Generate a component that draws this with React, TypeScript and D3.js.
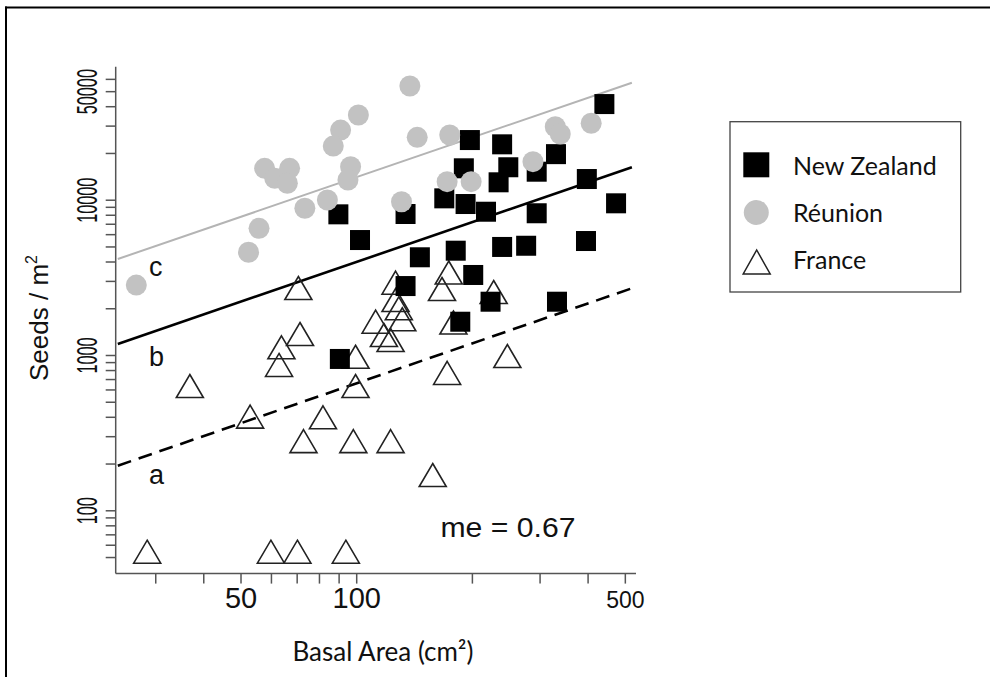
import React from 'react';
import * as d3 from 'd3';

// ---- Data (basal area cm², seeds / m²) ----
const nzBasal = [441, 197, 239, 330, 190, 248, 234, 294, 397, 169, 192, 217, 134, 473, 294, 146, 181, 239, 276, 395, 201, 134, 223, 332, 186, 89.6, 102, 90.4];
const nzSeeds = [41600, 24400, 22900, 19800, 16050, 16300, 13040, 15260, 13690, 10280, 9450, 8430, 8150, 9550, 8240, 4290, 4730, 5000, 5090, 5460, 3300, 2800, 2220, 2220, 1650, 8110, 5540, 950];

const reBasal = [101, 90.8, 86.9, 57.6, 61.2, 66.9, 66.0, 96.4, 94.9, 73.3, 83.9, 55.7, 52.3, 26.7, 137.5, 143.7, 174.6, 171.9, 198.5, 130.8, 287.5, 328.6, 338.6, 407.5];
const reSeeds = [35400, 28300, 22300, 16050, 13840, 16050, 12850, 16430, 13490, 8870, 10030, 6590, 4620, 2840, 54400, 25400, 26300, 13160, 13160, 9780, 17700, 29700, 26700, 31300];

const frBasal = [70.5, 36.8, 71.2, 63.7, 62.8, 99.3, 99.3, 52.8, 81.7, 72.7, 98.0, 122.5, 28.5, 59.8, 70.1, 93.7, 126.2, 126.2, 128.7, 131.4, 112.0, 117.7, 122.5, 173.6, 166.7, 178.5, 227.2, 246.6, 171.9, 157.7];
const frSeeds = [2720, 636, 1375, 1129, 869, 982, 636, 404, 400, 281, 281, 281, 54.5, 54.5, 54.5, 54.5, 2943, 2277, 2013, 1711, 1651, 1355, 1258, 3423, 2681, 1631, 2564, 993, 772, 170];

// fitted lines (endpoints in data units)
const fitBasal = [23.9, 520];
const fitReunion = [4182, 57100]; // c, grey
const fitNZ = [1186, 16290]; // b, black
const fitFrance = [195.2, 2709]; // a, dashed

const xTicksMajor = [50, 100, 500];
const xTicksMinor = [30, 40, 60, 70, 80, 90, 200, 300, 400];
const yTicksMajor = [100, 1000, 10000, 50000];
const yTicksMinor = [50, 60, 70, 80, 90, 200, 300, 400, 500, 600, 700, 800, 900, 2000, 3000, 4000, 5000, 6000, 7000, 8000, 9000, 20000, 30000, 40000, 60000];

const groupLetters = ['a', 'b', 'c'];
const letterBasal = [28.8, 28.8, 28.8];
const letterSeeds = [147.7, 855.6, 3227];
const legendLabels = ['New Zealand', 'Réunion', 'France'];
const meLabel = 'me = 0.67';
const meBasal = 165.2;
const meSeeds = 68.1;

const W = 990, H = 677;
const x = d3.scaleLog().domain([23.6, 533]).range([115.7, 636]);
const y = d3.scaleLog().domain([39.4, 72400]).range([573.6, 66.7]);

const AX = '#555';
const GREY = '#c2c2c2';
const SANS = '"Liberation Sans", Arial, Helvetica, sans-serif';
const LEG = 'Lato, "Open Sans", sans-serif';

const triPath = (w: number, h: number) => `M0,${-h / 2}L${w / 2},${h / 2}L${-w / 2},${h / 2}Z`;

export default function App() {
  const line = d3.line<[number, number]>().x(d => x(d[0])).y(d => y(d[1]));
  const seg = (ys: number[]) => line([[fitBasal[0], ys[0]], [fitBasal[1], ys[1]]]) as string;
  const x0 = x.range()[0];
  const y0 = y.range()[0];
  return (
    <svg width={W} height={H} style={{ position: 'absolute', left: 0, top: 0, background: '#fff' }}>
      <rect x={0} y={0} width={W} height={H} fill="#fff" />
      {/* outer frame */}
      <line x1={5} x2={W} y1={7.5} y2={7.5} stroke="#000" strokeWidth={2} />
      <line x1={6} x2={6} y1={6.5} y2={H} stroke="#000" strokeWidth={2} />

      {/* axes */}
      <line x1={x0} x2={x0} y1={y.range()[1]} y2={y0} stroke={AX} strokeWidth={1.5} />
      <line x1={x0} x2={x.range()[1]} y1={y0} y2={y0} stroke={AX} strokeWidth={1.5} />
      {[...xTicksMajor, ...xTicksMinor].map(t => (
        <line key={'xt' + t} x1={x(t)} x2={x(t)} y1={y0} y2={y0 + 10} stroke={AX} strokeWidth={1.5} />
      ))}
      {[...yTicksMajor, ...yTicksMinor].map(t => (
        <line key={'yt' + t} x1={x0 - 10} x2={x0} y1={y(t)} y2={y(t)} stroke={AX} strokeWidth={1.5} />
      ))}
      {xTicksMajor.map(t => (
        <text key={'xl' + t} x={x(t)} y={y0 + 34} textAnchor="middle" fontFamily={SANS} fontSize={t === 500 ? 23 : 29} fill="#111">{t}</text>
      ))}
      {yTicksMajor.map(t => (
        <text key={'yl' + t} transform={`translate(97,${y(t)}) rotate(-90) scale(0.56,1)`} textAnchor="middle" fontFamily={SANS} fontSize={29} fill="#111">{t}</text>
      ))}
      <text transform="translate(48,318) rotate(-90)" textAnchor="middle" fontFamily={SANS} fontSize={26} fill="#111">
        Seeds / m<tspan fontSize={16} dy={-11}>2</tspan>
      </text>
      <text x={383} y={661} textAnchor="middle" fontFamily={LEG} fontSize={26} fill="#111">Basal Area (cm²)</text>

      {/* fitted lines */}
      <path d={seg(fitReunion)} stroke="#b4b4b4" strokeWidth={2} fill="none" />
      <path d={seg(fitNZ)} stroke="#000" strokeWidth={2.6} fill="none" />
      <path d={seg(fitFrance)} stroke="#000" strokeWidth={2.6} fill="none" strokeDasharray="14,8" />

      {/* points */}
      {frBasal.map((b, i) => (
        <path key={'fr' + i} d={triPath(27, 23)} transform={`translate(${x(b)},${y(frSeeds[i])})`} fill="none" stroke="#222" strokeWidth={1.6} />
      ))}
      {nzBasal.map((b, i) => (
        <rect key={'nz' + i} x={x(b) - 10} y={y(nzSeeds[i]) - 10} width={20} height={20} fill="#000" />
      ))}
      {reBasal.map((b, i) => (
        <circle key={'re' + i} cx={x(b)} cy={y(reSeeds[i])} r={10.5} fill={GREY} />
      ))}

      {/* group letters */}
      {groupLetters.map((l, i) => (
        <text key={l} x={x(letterBasal[i])} y={y(letterSeeds[i])} fontFamily={SANS} fontSize={27} fill="#111">{l}</text>
      ))}
      <text x={x(meBasal)} y={y(meSeeds)} fontFamily={SANS} fontSize={28} textLength={135} lengthAdjust="spacingAndGlyphs" fill="#111">{meLabel}</text>

      {/* legend */}
      <rect x={730} y={121.7} width={230.7} height={170.3} fill="#fff" stroke="#444" strokeWidth={1.3} />
      <rect x={743.3} y={152.3} width={26} height={25} fill="#000" />
      <circle cx={756.3} cy={212.5} r={12.5} fill={GREY} />
      <path d={triPath(27, 24)} transform="translate(756.7,262)" fill="none" stroke="#222" strokeWidth={1.5} />
      {legendLabels.map((l, i) => (
        <text key={l} x={793} y={175 + i * 47.2} fontFamily={LEG} fontSize={25} fill="#111">{l}</text>
      ))}
    </svg>
  );
}
